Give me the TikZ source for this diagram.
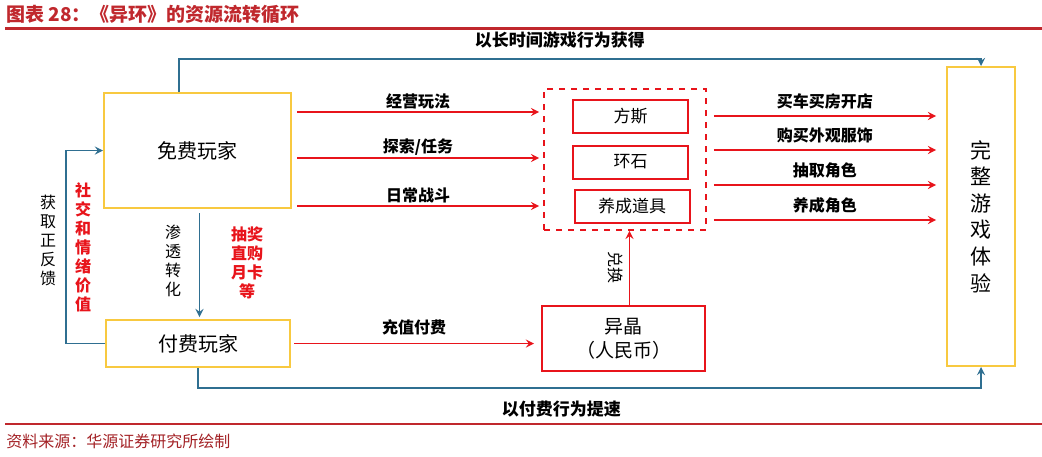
\documentclass[tikz,border=0pt]{standalone}
\usepackage{fontspec}
\setmainfont{Noto Sans CJK SC}
\usepackage{xcolor}
\usepackage{tikz}
\usetikzlibrary{shapes,arrows,calc,positioning}
\definecolor{titlered}{HTML}{C0282D}
\definecolor{linkblue}{HTML}{2F6F91}
\definecolor{boxyellow}{HTML}{F8C940}
\definecolor{flowred}{HTML}{E8141B}

\begin{document}
\begin{tikzpicture}[x=0.5pt, y=-0.5pt,
  player/.style={rectangle, draw=boxyellow, line width=1pt, inner sep=0pt, font=\fontsize{10}{12}\selectfont},
  currency/.style={rectangle, draw=flowred, line width=1pt, inner sep=0pt, minimum width=57.5pt, minimum height=16.5pt, font=\fontsize{8.5}{10}\selectfont},
  pool/.style={rectangle, draw=flowred, dashed, line width=0.9pt, inner sep=0pt},
  redarrow/.style={->, >=stealth, draw=flowred, line width=0.8pt},
  bluearrow/.style={->, >=stealth, draw=linkblue, line width=0.8pt},
  flowlabel/.style={font=\fontsize{8}{9}\selectfont\bfseries, text=black, inner sep=1pt},
  vtext/.style={align=center, inner sep=0pt, font=\fontsize{8}{9.5}\selectfont}
]
\useasboundingbox (0,0) rectangle (1042,456);

\node[anchor=west, text=titlered, inner sep=0pt, font=\fontsize{9.5}{11}\selectfont\bfseries] (title) at (6,14) {图表 28：《异环》的资源流转循环};
\draw[titlered, line width=1.5pt] (5,28) -- (1042,28);
\draw[titlered, line width=1.2pt] (5,424) -- (1042,424);
\node[anchor=west, text=titlered!85!black, inner sep=0pt, font=\fontsize{8}{10}\selectfont] (source) at (6,441) {资料来源：华源证券研究所绘制};

\node[player, minimum width=93.5pt, minimum height=57.5pt] (freeplayer) at (197.5,150.5) {免费玩家};
\node[player, minimum width=92pt, minimum height=23.5pt] (payplayer) at (198,343.5) {付费玩家};
\node[pool, minimum width=81pt, minimum height=70.5pt] (pool) at (625,159.5) {};
\node[currency] (fangsi) at (630.5,116.5) {方斯};
\node[currency] (huanshi) at (630.5,162) {环石};
\node[currency] (props) at (632,206.5) {养成道具};
\node[currency, minimum width=81.5pt, minimum height=32.5pt, align=center, font=\fontsize{9.5}{12}\selectfont] (yijing) at (623.5,338.5) {异晶\\（人民币）};
\node[player, minimum width=34pt, minimum height=149.5pt, align=center, font=\fontsize{10.5}{13.3}\selectfont] (fullexp) at (981,216.5) {完\\整\\游\\戏\\体\\验};

\coordinate (topline) at (0,59);
\coordinate (botline) at (0,388);
\coordinate (loopline) at (66,0);
\coordinate (lane1) at (0,112);
\coordinate (lane2) at (0,158);
\coordinate (lane3) at (0,206);
\coordinate (out1) at (0,116);
\coordinate (out2) at (0,150);
\coordinate (out3) at (0,185);
\coordinate (out4) at (0,220);

\draw[bluearrow] ([xshift=-9.25pt]freeplayer.north) -- ([xshift=-9.25pt]freeplayer.north |- topline) -- node[pos=0.475, above=4pt, flowlabel, font=\fontsize{8.5}{10}\selectfont\bfseries] (lbltime) {以长时间游戏行为获得} (fullexp.north |- topline) -- (fullexp.north);
\draw[bluearrow] (payplayer.south) -- (payplayer.south |- botline) -- node[pos=0.464, below=5pt, flowlabel, font=\fontsize{8.5}{10}\selectfont\bfseries] (lblspeed) {以付费行为提速} (fullexp.south |- botline) -- (fullexp.south);
\draw[bluearrow] (payplayer.west) -- (payplayer.west -| loopline) -- (freeplayer.west -| loopline) -- (freeplayer.west);
\draw[bluearrow, shorten <=2pt, shorten >=1pt] ([xshift=1pt]freeplayer.south) -- ([xshift=1pt]freeplayer.south |- payplayer.north);

\node[vtext] (lblfeedback) at (48,240) {获\\取\\正\\反\\馈};
\node[vtext, text=flowred, font=\fontsize{8}{9.5}\selectfont\bfseries] (lblsocial) at (83,247) {社\\交\\和\\情\\绪\\价\\值};
\node[vtext] (lblconvert) at (173,261) {渗\\透\\转\\化};
\node[vtext, text=flowred, font=\fontsize{8}{9.5}\selectfont\bfseries] (lbllottery) at (247,263) {抽奖\\直购\\月卡\\等};

\draw[redarrow] ([xshift=2.5pt]freeplayer.east |- lane1) -- node[midway, above, flowlabel] (lblmanage) {经营玩法} ([xshift=-2pt]pool.west |- lane1);
\draw[redarrow] ([xshift=2.5pt]freeplayer.east |- lane2) -- node[midway, above, flowlabel] (lblexplore) {探索/任务} ([xshift=-2pt]pool.west |- lane2);
\draw[redarrow] ([xshift=2.5pt]freeplayer.east |- lane3) -- node[midway, above, flowlabel] (lblbattle) {日常战斗} ([xshift=-2pt]pool.west |- lane3);

\draw[redarrow] ([xshift=3.5pt]pool.east |- out1) -- node[midway, above=2pt, flowlabel] (lblbuy) {买车买房开店} ([xshift=-5pt]fullexp.west |- out1);
\draw[redarrow] ([xshift=3.5pt]pool.east |- out2) -- node[midway, above=2pt, flowlabel] (lbloutfit) {购买外观服饰} ([xshift=-5pt]fullexp.west |- out2);
\draw[redarrow] ([xshift=3.5pt]pool.east |- out3) -- node[midway, above=2pt, flowlabel] (lbldraw) {抽取角色} ([xshift=-5pt]fullexp.west |- out3);
\draw[redarrow] ([xshift=3.5pt]pool.east |- out4) -- node[midway, above=2pt, flowlabel] (lblgrow) {养成角色} ([xshift=-5pt]fullexp.west |- out4);

\draw[redarrow] ([xshift=1.5pt]payplayer.east) -- node[midway, above=3pt, flowlabel] (lblcharge) {充值付费} ([xshift=-3.5pt]yijing.west |- payplayer.east);
\draw[redarrow] ([xshift=3pt]yijing.north) -- node[midway, rotate=-90, anchor=north, yshift=-2pt, flowlabel, font=\fontsize{8}{9}\selectfont] (lblexchange) {兑换} ([xshift=3pt]yijing.north |- pool.south);

\end{tikzpicture}
\end{document}
